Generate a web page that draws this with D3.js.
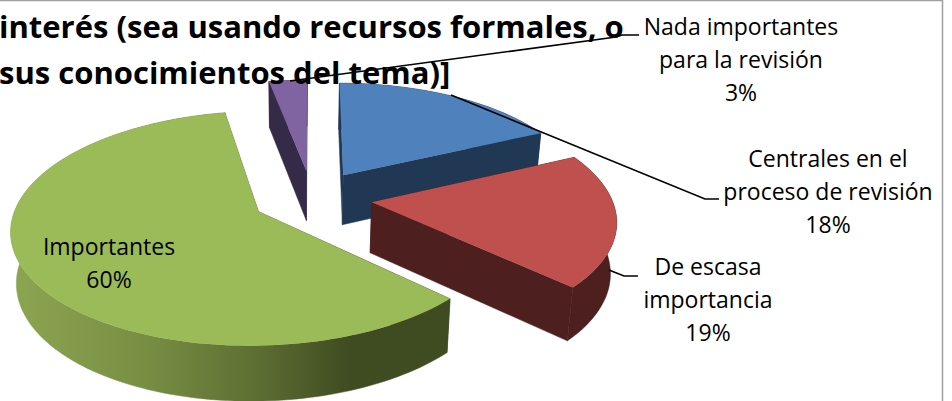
<!DOCTYPE html>
<html>
<head>
<meta charset="utf-8">
<script src="https://cdnjs.cloudflare.com/ajax/libs/d3/7.8.5/d3.min.js"></script>
<style>
  html, body { margin: 0; padding: 0; background: #fff; overflow: hidden; }
  svg { display: block; }
  text { font-family: "Open Sans", Lato, sans-serif; fill: #000; }
</style>
</head>
<body>
<div id="chart"></div>
<script>
const categories = ['Centrales en el proceso de revisión', 'De escasa importancia', 'Importantes', 'Nada importantes para la revisión'];
const values = [18, 19, 60, 3];
const labelLines = [
  ['Centrales en el', 'proceso de revisión', '18%'],
  ['De escasa', 'importancia', '19%'],
  ['Importantes', '60%'],
  ['Nada importantes', 'para la revisión', '3%'],
];
const titleLines = ['interés (sea usando recursos formales, o', 'sus conocimientos del tema)]'];
const topColors = ['#4f81bd', '#c0504d', '#9bbb59', '#8064a2'];
const sideColors = ['#213855', '#4d1f1e', 'url(#green-wall)', '#352a47'];

const width = 952;
const height = 401;

// projection of the tilted disc, picked by eye against the picture
const center = { x: 312, y: 198 };
const radiusX = 240;
const radiusY = 111;
const tilt = 0.141;
const explode = 0.25;

const project = (u, v) => {
  const w = 1 + tilt * v;
  return [center.x + radiusX * u / w, center.y - radiusY * v / w];
};

// the underside sits lower and slightly smaller
const drop = ([x, y]) => [
  300 + (x - 300) * 0.98,
  y + 50 + (y - 190) * 0.035,
];

const svg = d3.select('#chart')
  .append('svg')
  .attr('width', width)
  .attr('height', height);

const grad = svg.append('defs')
  .append('linearGradient')
  .attr('id', 'green-wall')
  .attr('gradientUnits', 'userSpaceOnUse')
  .attr('x1', 12).attr('x2', 447)
  .attr('y1', 0).attr('y2', 0);

[[0, '#8ca551'], [0.3, '#788f43'], [0.55, '#5f7034'], [0.78, '#3f4b21'], [1, '#3f4b21']].forEach((s) => {
  grad.append('stop').attr('offset', s[0]).attr('stop-color', s[1]);
});

const line = d3.line();
const arcs = d3.pie().sort(null).value(d => d)(values);

const slices = arcs.map((a, i) => {
  const mid = (a.startAngle + a.endAngle) / 2;
  const ox = explode * Math.sin(mid);
  const oy = explode * Math.cos(mid);
  const steps = Math.max(6, Math.ceil((a.endAngle - a.startAngle) * 40));
  const rim = d3.range(steps + 1).map((k) => {
    const t = a.startAngle + (a.endAngle - a.startAngle) * k / steps;
    return project(ox + Math.sin(t), oy + Math.cos(t));
  });
  return { i, apex: project(ox, oy), rim };
});

// painter's order: back slices first
[3, 0, 2, 1].forEach((idx) => {
  const s = slices[idx];
  const g = svg.append('g').attr('class', 'slice');
  const first = s.rim[0];
  const last = s.rim[s.rim.length - 1];
  const faces = [
    [s.apex, first, drop(first), drop(s.apex)],
    [s.apex, last, drop(last), drop(s.apex)],
    s.rim.concat(s.rim.map(drop).reverse()),
  ];
  g.selectAll('path.side')
    .data(faces)
    .enter()
    .append('path')
    .attr('class', 'side')
    .attr('d', d => `${line(d)}Z`)
    .attr('fill', sideColors[idx])
    .attr('stroke', sideColors[idx])
    .attr('stroke-width', 0.5);
  g.append('path')
    .attr('d', `${line([s.apex].concat(s.rim))}Z`)
    .attr('fill', topColors[idx]);
});

const title = svg.append('g').attr('font-weight', 700).attr('font-size', 31);
title.selectAll('text')
  .data(titleLines)
  .enter()
  .append('text')
  .attr('x', -1)
  .attr('y', (d, i) => 38 + i * 46)
  .text(d => d);

const leaders = [
  [[290, 81], [616, 37], [622, 35], [639, 35]],
  [[451, 95], [705, 199], [719, 199]],
  [[609, 270], [624, 276], [638, 276]],
];
svg.selectAll('path.leader')
  .data(leaders)
  .enter()
  .append('path')
  .attr('class', 'leader')
  .attr('d', d => line(d))
  .attr('fill', 'none')
  .attr('stroke', '#000')
  .attr('stroke-width', 1.6);

const labelSpots = [
  { x: 828, y: 167 },
  { x: 708, y: 275 },
  { x: 109, y: 255 },
  { x: 741, y: 35 },
];
const labels = svg.selectAll('g.label')
  .data(labelLines)
  .enter()
  .append('g')
  .attr('class', 'label')
  .attr('aria-label', (d, i) => categories[i])
  .attr('font-size', 23)
  .attr('text-anchor', 'middle');
labels.selectAll('text')
  .data((d, i) => d.map((t, n) => ({ t, n, spot: labelSpots[i] })))
  .enter()
  .append('text')
  .attr('x', d => d.spot.x)
  .attr('y', d => d.spot.y + d.n * 33)
  .text(d => d.t);

// frame of the pasted picture: only top and right edges show
svg.append('path')
  .attr('d', `M0,0.5H942.5V${height}`)
  .attr('fill', 'none')
  .attr('stroke', '#a0a0a0')
  .attr('stroke-width', 1.5);
</script>
</body>
</html>
